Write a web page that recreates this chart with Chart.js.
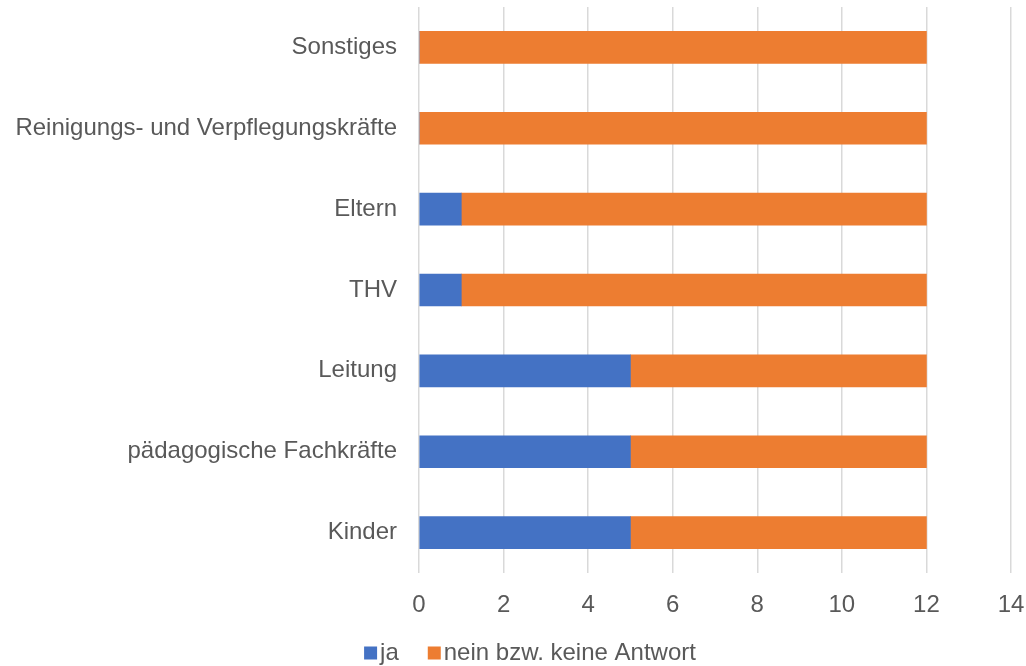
<!DOCTYPE html>
<html>
<head>
<meta charset="utf-8">
<script src="https://cdn.jsdelivr.net/npm/chart.js@4/dist/chart.umd.min.js"></script>
<style>
  html, body { margin: 0; padding: 0; background: #fff; }
  #wrap { width: 1026px; height: 666px; }
</style>
</head>
<body>
<div id="wrap"><canvas id="chart"></canvas></div>
<script>
var categories = [
  "Sonstiges",
  "Reinigungs- und Verpflegungskräfte",
  "Eltern",
  "THV",
  "Leitung",
  "pädagogische Fachkräfte",
  "Kinder"
];
var jaValues = [0, 0, 1, 1, 5, 5, 5];
var neinValues = [12, 12, 11, 11, 7, 7, 7];
var xTicks = [0, 2, 4, 6, 8, 10, 12, 14];

var textColor = "#595959";
var fontFamily = "'Liberation Sans', Arial, sans-serif";

// axes should not reserve extra room for half-labels at their ends
function noEdgePadding(axis) {
  axis.paddingTop = 0;
  axis.paddingBottom = 0;
  axis.paddingLeft = 0;
  axis.paddingRight = 0;
}

// compact Office-style legend: small square right next to the text
const bottomLegend = {
  id: "bottomLegend",
  afterDraw(chart) {
    var c = chart.ctx;
    var box = 13, gap = 3, itemGap = 29;
    c.save();
    c.font = "24px " + fontFamily;
    c.textBaseline = "middle";
    var items = chart.data.datasets.map((ds) => ({
      label: ds.label,
      color: ds.backgroundColor,
      w: box + gap + c.measureText(ds.label).width
    }));
    var total = items.reduce((s, it) => s + it.w, 0) + itemGap * (items.length - 1);
    var x = chart.width / 2 + 17 - total / 2;
    var y = chart.height - 13;
    items.forEach((it) => {
      c.fillStyle = it.color;
      c.fillRect(x, y - box / 2, box, box);
      c.fillStyle = textColor;
      c.fillText(it.label, x + box + gap, y);
      x += it.w + itemGap;
    });
    c.restore();
  }
};

var ctx = document.getElementById("chart").getContext("2d");

const chart = new Chart(ctx, {
  type: "bar",
  data: {
    labels: categories,
    datasets: [
      {
        label: "ja",
        data: jaValues,
        backgroundColor: "#4472C4",
        barThickness: 32
      },
      {
        label: "nein bzw. keine Antwort",
        data: neinValues,
        backgroundColor: "#ED7D31",
        barThickness: 32
      }
    ]
  },
  options: {
    indexAxis: "y",
    responsive: true,
    maintainAspectRatio: false,
    animation: false,
    layout: { padding: { top: 7, right: 15, bottom: 43, left: 0 } },
    scales: {
      x: {
        stacked: true,
        min: 0,
        max: 14,
        afterBuildTicks: (axis) => {
          axis.ticks = xTicks.map((v) => ({ value: v }));
        },
        grid: { color: "#D9D9D9", lineWidth: 1.5, drawTicks: false },
        border: { display: false },
        ticks: {
          color: textColor,
          font: { family: fontFamily, size: 24 },
          padding: 18
        },
        afterFit: (axis) => {
          axis.height = 50;
          noEdgePadding(axis);
        }
      },
      y: {
        stacked: true,
        grid: { display: false },
        border: { display: false },
        ticks: {
          color: textColor,
          font: { family: fontFamily, size: 24 },
          padding: 14
        },
        afterFit: (axis) => {
          axis.width = 419;
          noEdgePadding(axis);
        }
      }
    },
    plugins: {
      legend: { display: false },
      tooltip: { enabled: false }
    }
  },
  plugins: [bottomLegend]
});
</script>
</body>
</html>
